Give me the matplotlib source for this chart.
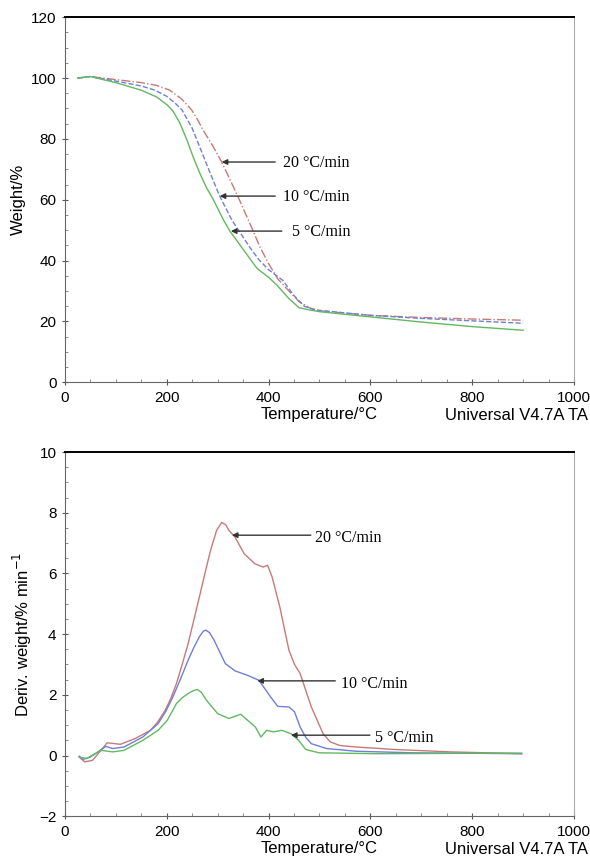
import matplotlib.pyplot as plt
from matplotlib.ticker import MultipleLocator

# TGA (weight %)
t_5 = [25, 50, 100, 150, 180, 200, 212, 225, 240, 252, 265, 278, 290, 311, 324, 347, 377, 400, 416, 440, 460, 480, 500, 600, 700, 800, 900]
w_5 = [100, 100.5, 98.5, 96, 93.8, 91.3, 89.2, 85.5, 79.5, 74, 68.7, 64, 60.5, 53.5, 49.7, 44.4, 37.5, 34.5, 32, 27.5, 24.5, 23.8, 23.2, 21.5, 19.8, 18.3, 17.1]
t_10 = [25, 50, 100, 150, 177, 200, 215, 230, 250, 268, 286, 304, 328, 363, 380, 400, 428, 450, 470, 490, 600, 700, 800, 900]
w_10 = [100, 100.5, 99, 97.4, 96, 94, 92, 89.5, 83.5, 76, 68.5, 61.2, 53.3, 44.4, 40.5, 37, 33.5, 28.5, 25, 23.8, 22, 21, 20.2, 19.4]
t_20 = [25, 50, 100, 150, 180, 206, 230, 249, 260, 271, 290, 308, 340, 369, 383, 400, 418, 440, 460, 480, 500, 600, 700, 800, 900]
w_20 = [100, 100.5, 99.5, 98.5, 97.6, 96, 93, 89.5, 86.5, 83, 77.8, 72.4, 61, 50, 44.5, 39, 34, 30, 26.5, 24.5, 23.5, 22, 21.3, 20.8, 20.4]

# DTG (deriv. weight)
dt_20 = [28, 39, 54, 70, 83, 109, 138, 168, 182, 197, 208, 219, 230, 242, 253, 264, 275, 286, 298, 308, 316, 322, 334, 352, 373, 389, 398, 407, 422, 440, 451, 462, 484, 507, 521, 540, 573, 647, 757, 897]
dw_20 = [-0.05, -0.21, -0.16, 0.15, 0.42, 0.37, 0.56, 0.83, 1.1, 1.49, 1.88, 2.37, 2.98, 3.69, 4.45, 5.22, 6.0, 6.76, 7.42, 7.68, 7.6, 7.42, 7.2, 6.65, 6.32, 6.21, 6.27, 5.88, 4.9, 3.47, 3.0, 2.7, 1.6, 0.72, 0.45, 0.33, 0.28, 0.2, 0.12, 0.06]
dt_10 = [28, 35, 50, 65, 80, 94, 116, 153, 183, 198, 212, 227, 242, 253, 264, 272, 277, 284, 293, 305, 315, 334, 359, 381, 404, 418, 440, 451, 462, 473, 484, 514, 573, 683, 897]
dw_10 = [-0.02, -0.13, -0.05, 0.12, 0.3, 0.23, 0.28, 0.61, 1.05, 1.45, 1.93, 2.52, 3.14, 3.55, 3.91, 4.1, 4.13, 4.05, 3.8, 3.38, 3.03, 2.79, 2.64, 2.48, 1.93, 1.62, 1.6, 1.44, 0.94, 0.6, 0.39, 0.23, 0.14, 0.09, 0.06]
dt_5 = [28, 43, 58, 72, 94, 116, 153, 183, 201, 219, 230, 242, 250, 260, 268, 278, 300, 322, 345, 359, 374, 385, 396, 410, 426, 444, 459, 473, 499, 610, 897]
dw_5 = [-0.05, -0.1, 0.05, 0.17, 0.12, 0.17, 0.5, 0.83, 1.16, 1.71, 1.9, 2.04, 2.12, 2.18, 2.08, 1.82, 1.38, 1.22, 1.36, 1.16, 0.94, 0.61, 0.83, 0.78, 0.83, 0.72, 0.5, 0.2, 0.09, 0.06, 0.08]

labels = ['20 °C/min', '10 °C/min', '5 °C/min']
# (tip x, tip y, tail x, text x)
tga_arrows = [(308, 72.4, 413, 428), (304, 61.2, 413, 428), (326, 49.7, 426, 446)]
dtg_arrows = [(328, 7.26, 483, 492), (378, 2.46, 531, 542), (444, 0.67, 599, 610)]

RED = '#c77a78'
BLUE = '#6f7fd6'
GREEN = '#62b862'

plt.rcParams['font.family'] = ['Liberation Sans', 'DejaVu Sans']

fig = plt.figure(figsize=(5.9, 8.61), dpi=100)
ax1 = fig.add_axes([0.110, 0.556, 0.863, 0.424])
ax2 = fig.add_axes([0.110, 0.052, 0.863, 0.423])


def style_axes(ax):
    ax.set_xlim(0, 1000)
    ax.xaxis.set_major_locator(MultipleLocator(200))
    ax.xaxis.set_minor_locator(MultipleLocator(50))
    ax.tick_params(which='major', direction='inout', length=5, width=0.8,
                   labelsize=11, color='#555555', top=False, right=False)
    ax.tick_params(which='minor', direction='in', length=2.5, width=0.6,
                   color='#777777', top=False, right=False)
    ax.spines['top'].set_linewidth(1.4)
    ax.spines['top'].set_color('black')
    ax.spines['right'].set_color('#aaaaaa')
    ax.spines['left'].set_color('#666666')
    ax.spines['bottom'].set_color('#666666')
    ax.set_xlabel('Temperature/°C', fontsize=12, labelpad=2)


def add_arrows(ax, arrows, dy):
    for lab, (tx, ty, ax_tail, lx) in zip(labels, arrows):
        ax.annotate('', xy=(tx, ty), xytext=(ax_tail, ty),
                    arrowprops=dict(arrowstyle='-|>', color='#333333', lw=1.0,
                                    mutation_scale=8, shrinkA=0, shrinkB=0))
        ax.text(lx, ty - dy, lab, fontsize=11.5, family='Liberation Serif',
                va='center', ha='left')


# top: TGA
ax1.plot(t_20, w_20, color=RED, lw=1.0, ls='-.')
ax1.plot(t_10, w_10, color=BLUE, lw=1.0, ls='--')
ax1.plot(t_5, w_5, color=GREEN, lw=1.0, ls='-')
ax1.set_ylim(0, 120)
ax1.yaxis.set_major_locator(MultipleLocator(20))
ax1.yaxis.set_minor_locator(MultipleLocator(5))
ax1.set_ylabel('Weight/%', fontsize=12, labelpad=4)
style_axes(ax1)
add_arrows(ax1, tga_arrows, 0.3)

# bottom: DTG
ax2.plot(dt_20, dw_20, color=RED, lw=1.0)
ax2.plot(dt_10, dw_10, color=BLUE, lw=1.0)
ax2.plot(dt_5, dw_5, color=GREEN, lw=1.0)
ax2.set_ylim(-2, 10)
ax2.yaxis.set_minor_locator(MultipleLocator(0.5))
ax2.set_yticks([-2, 0, 2, 4, 6, 8, 10])
ax2.set_yticklabels(['\u22122', '0', '2', '4', '6', '8', '10'])
ax2.set_ylabel('Deriv. weight/% min$^{-1}$', fontsize=12, labelpad=4)
style_axes(ax2)
add_arrows(ax2, dtg_arrows, 0.1)

fig.text(588 / 590, 1 - 416 / 861, 'Universal V4.7A TA', ha='right', va='center', fontsize=12)
fig.text(588 / 590, 1 - 850 / 861, 'Universal V4.7A TA', ha='right', va='center', fontsize=12)

fig.savefig('out.png', dpi=100)
